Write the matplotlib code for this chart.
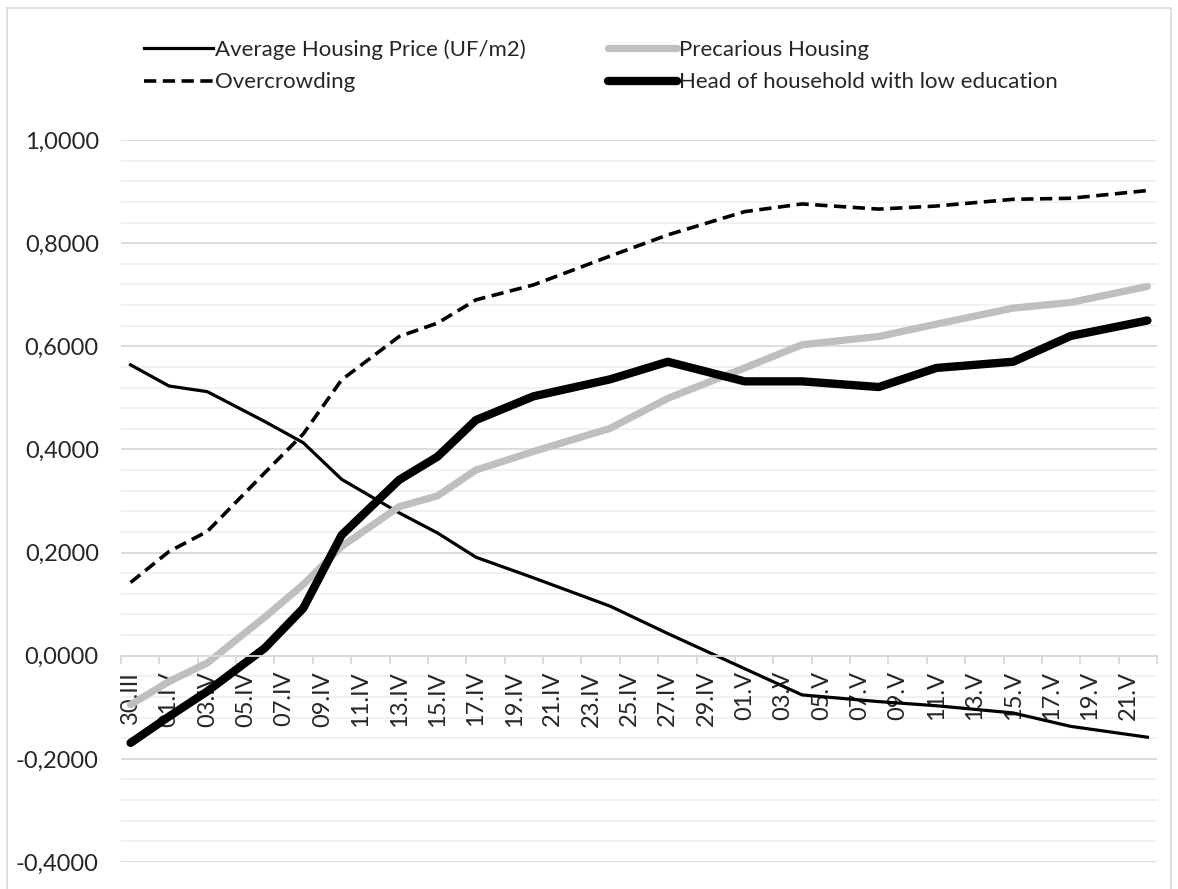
import matplotlib.pyplot as plt
import numpy as np
from matplotlib.patches import Rectangle
from matplotlib.ticker import FixedLocator, FuncFormatter

plt.rcParams["font.family"] = ["Lato", "DejaVu Sans"]

# report dates (one point per report) and the daily axis labels
report_dates = np.array(
    ["2020-03-30", "2020-04-01", "2020-04-03", "2020-04-06", "2020-04-08",
     "2020-04-10", "2020-04-13", "2020-04-15", "2020-04-17", "2020-04-20",
     "2020-04-24", "2020-04-27", "2020-05-01", "2020-05-04", "2020-05-08",
     "2020-05-11", "2020-05-15", "2020-05-18", "2020-05-22"],
    dtype="datetime64[D]",
)
tick_labels = ["30.III", "01.IV", "03.IV", "05.IV", "07.IV", "09.IV", "11.IV",
               "13.IV", "15.IV", "17.IV", "19.IV", "21.IV", "23.IV", "25.IV",
               "27.IV", "29.IV", "01.V", "03.V", "05.V", "07.V", "09.V", "11.V",
               "13.V", "15.V", "17.V", "19.V", "21.V"]

housing_price = [0.564, 0.523, 0.512, 0.454, 0.413, 0.342, 0.277, 0.238, 0.191,
                 0.151, 0.096, 0.043, -0.025, -0.076, -0.089, -0.097, -0.111,
                 -0.137, -0.158]
precarious = [-0.095, -0.050, -0.014, 0.075, 0.138, 0.212, 0.289, 0.310, 0.360,
              0.396, 0.441, 0.499, 0.558, 0.603, 0.619, 0.643, 0.674, 0.685,
              0.716]
overcrowding = [0.142, 0.202, 0.241, 0.355, 0.430, 0.535, 0.619, 0.645, 0.690,
                0.719, 0.775, 0.816, 0.861, 0.876, 0.866, 0.872, 0.885, 0.887,
                0.902]
low_education = [-0.169, -0.118, -0.069, 0.015, 0.092, 0.234, 0.341, 0.386,
                 0.457, 0.503, 0.536, 0.570, 0.532, 0.532, 0.521, 0.558, 0.570,
                 0.620, 0.650]

start = report_dates[0]
day = (report_dates - start).astype(int)
n_days = 2 * len(tick_labels)

W, H = 1178, 889
fs = 17
fig = plt.figure(figsize=(W / 100, H / 100), dpi=100)
fig.patches.append(Rectangle((7 / W, -0.01), (W - 14) / W, 1 - 8 / H + 0.01,
                             transform=fig.transFigure, fill=False,
                             edgecolor="#d9d9d9", linewidth=1.2))
ax = fig.add_axes([121 / W, 1 - 862 / H, (1157 - 121) / W, (862 - 140) / H])
ax.set_axisbelow(True)
ax.yaxis.set_zorder(0.3)
ax.xaxis.set_zorder(0.6)

l1, = ax.plot(day, housing_price, color="black", lw=2.3,
              solid_joinstyle="round", label="Average Housing Price (UF/m2)")
l2, = ax.plot(day, precarious, color="#bfbfbf", lw=5.2, solid_capstyle="round",
              solid_joinstyle="round", label="Precarious Housing")
l3, = ax.plot(day, overcrowding, color="black", lw=2.6, dashes=(3.4, 1.8),
              label="Overcrowding")
l4, = ax.plot(day, low_education, color="black", lw=6, solid_capstyle="round",
              solid_joinstyle="round", label="Head of household with low education")

ax.set_xlim(-0.5, n_days - 0.5)
ax.set_ylim(-0.4, 1.0)

# y axis
ax.set_yticks(np.arange(-0.4, 1.01, 0.2))
ax.yaxis.set_minor_locator(FixedLocator(np.arange(-0.4, 1.001, 0.04)))
ax.yaxis.set_major_formatter(
    FuncFormatter(lambda v, p: f"{0 if abs(v) < 1e-9 else v:.4f}".replace(".", ",")))
ax.tick_params(axis="y", which="both", length=0, pad=16, labelsize=fs,
               labelcolor="#262626")
ax.grid(axis="y", which="major", color="#d9d9d9", lw=1.3)
ax.grid(axis="y", which="minor", color="#f0f0f0", lw=1.3)

# x axis crossing at zero
for s in ["top", "right", "left"]:
    ax.spines[s].set_visible(False)
ax.spines["bottom"].set_position(("data", 0))
ax.spines["bottom"].set_color("#d9d9d9")
ax.spines["bottom"].set_linewidth(1.3)
ax.set_xticks(np.arange(-0.5, n_days, 2))
ax.set_xticklabels([])
ax.tick_params(axis="x", which="major", length=6, width=1.3, color="#d9d9d9")
ax.xaxis.set_minor_locator(FixedLocator(np.arange(len(tick_labels)) * 2))
ax.set_xticklabels(tick_labels, minor=True, rotation=90, fontsize=fs,
                   color="#262626")
ax.tick_params(axis="x", which="minor", length=0, pad=11)

fig.legend(handles=[l1, l3, l2, l4], ncol=2, loc="upper left",
           bbox_to_anchor=(124 / W, 1 - 19 / H), frameon=False, fontsize=16,
           handlelength=3.1, handletextpad=0.1, columnspacing=3.7,
           labelspacing=0.58, labelcolor="#262626")

fig.savefig("out.png", dpi=100)
